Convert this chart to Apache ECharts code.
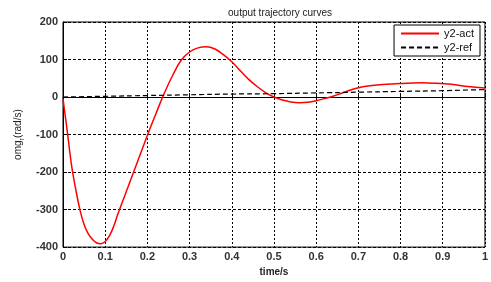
<!DOCTYPE html>
<html><head><meta charset="utf-8">
<script src="https://cdn.jsdelivr.net/npm/echarts@6/dist/echarts.min.js"></script>
<style>html,body{margin:0;padding:0;background:#fff}#c{width:491px;height:282px}</style>
</head><body><div id="c"></div>
<script>
const actT = [0,0.01,0.02,0.03,0.04,0.05,0.06,0.07,0.08,0.09,0.10,0.11,0.12,0.13,0.14,0.15,0.16,0.17,0.18,0.19,0.20,0.22,0.24,0.26,0.28,0.30,0.32,0.34,0.36,0.38,0.40,0.42,0.44,0.46,0.48,0.50,0.52,0.54,0.56,0.58,0.60,0.62,0.64,0.66,0.68,0.70,0.72,0.75,0.80,0.85,0.88,0.92,0.96,1.00];
const actV = [-5,-90,-180,-245,-300,-340,-365,-380,-389,-391,-385,-370,-345,-312,-282,-252,-222,-192,-162,-132,-102,-45,10,58,98,120,131,134,128,113,94,70,47,28,12,0,-8,-13,-15,-14,-10,-4,2,10,18,25,29,33,36,38,37,34,28,24];
const refT = [0,0.1,0.2,0.3,0.4,0.5,0.6,0.7,0.8,0.9,1.0];
const refV = [0,2,4,6,8,9,11,13,15,17,20];
const xTicks = [0,0.1,0.2,0.3,0.4,0.5,0.6,0.7,0.8,0.9,1];
const yTicks = [-400,-300,-200,-100,0,100,200];

const chart = echarts.init(document.getElementById('c'));
const font = 'Arial, "Liberation Sans", sans-serif';
chart.setOption({
  animation: false,
  backgroundColor: '#fff',
  title: {text: 'output trajectory curves', left: 275, textAlign: 'center', top: 3,
    textStyle: {fontSize: 10, fontWeight: 'normal', color: '#222', fontFamily: font}},
  grid: {left: 63, right: 5, top: 22, bottom: 25, show: true, borderColor: '#000', borderWidth: 1, backgroundColor: '#fff'},
  legend: {
    orient: 'vertical', right: 11, top: 25, padding: [3, 6, 3, 6],
    borderColor: '#000', borderWidth: 1, backgroundColor: '#fff',
    itemWidth: 38, itemHeight: 10, itemGap: 3,
    itemStyle: {opacity: 0},
    textStyle: {fontSize: 11, color: '#111', fontFamily: font},
    data: [{name: 'y2-act'}, {name: 'y2-ref'}]
  },
  xAxis: {
    type: 'value', min: 0, max: 1, interval: 0.1,
    name: 'time/s', nameLocation: 'middle', nameGap: 16,
    nameTextStyle: {fontSize: 10, color: '#222', fontFamily: font, fontWeight: 'bold'},
    axisLine: {lineStyle: {color: '#000'}},
    axisTick: {inside: true, length: 4, lineStyle: {color: '#000'}},
    axisLabel: {fontSize: 11, color: '#333', fontFamily: font, fontWeight: 'bold', margin: 4,
      formatter: v => (xTicks.includes(Math.round(v*10)/10) ? String(Math.round(v*10)/10) : '')},
    splitLine: {show: true, lineStyle: {color: '#000', type: [2, 2], width: 1}}
  },
  yAxis: {
    type: 'value', min: -400, max: 200, interval: 100,
    name: '{a|omg}{s|r}{a|(rad/s)}', nameLocation: 'middle', nameGap: 36,
    nameTextStyle: {fontSize: 10, color: '#222', fontFamily: font,
      rich: {a: {fontSize: 10, color: '#222', fontFamily: font}, s: {fontSize: 7, color: '#222', fontFamily: font, verticalAlign: 'bottom', padding: [6, 0, 0, 0]}}},
    axisLine: {show: true, lineStyle: {color: '#000'}},
    axisTick: {show: true, inside: true, length: 4, lineStyle: {color: '#000'}},
    axisLabel: {fontSize: 11, color: '#333', fontFamily: font, fontWeight: 'bold', margin: 5,
      formatter: v => (yTicks.includes(v) ? String(v) : '')},
    splitLine: {show: true, lineStyle: {color: '#000', type: [3, 2], width: 1}}
  },
  series: [
    {name: 'y2-act', type: 'line', smooth: 0.4, showSymbol: false, symbol: 'none',
      data: actT.map((t, i) => [t, actV[i]]),
      lineStyle: {color: '#ff0000', width: 1.5}, itemStyle: {color: '#ff0000'}},
    {name: 'y2-ref', type: 'line', smooth: true, showSymbol: false, symbol: 'none',
      data: refT.map((t, i) => [t, refV[i]]),
      lineStyle: {color: '#000', width: 1.2, type: [5, 3]}, itemStyle: {color: '#000'}}
  ]
});
</script></body></html>
